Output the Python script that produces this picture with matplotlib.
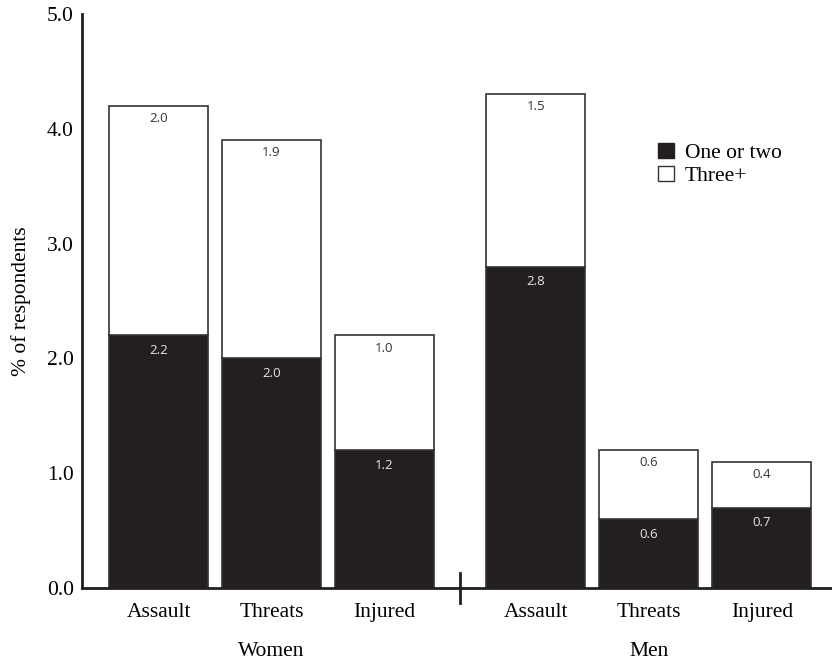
import matplotlib
matplotlib.use("Agg")
import matplotlib.pyplot as plt
from matplotlib.patches import Patch
import numpy as np

groups = ["Women", "Men"]
categories = ["Assault", "Threats", "Injured"]
one_or_two = [2.2, 2.0, 1.2, 2.8, 0.6, 0.7]
three_plus = [2.0, 1.9, 1.0, 1.5, 0.6, 0.4]

black = "#231f20"
edge = "#333333"
serif = "Liberation Serif"
fs = 15.5

gap = 1.34
x = np.array([0, 1, 2, gap + 2, gap + 3, gap + 4], dtype=float)
width = 0.876

fig = plt.figure(figsize=(8.32, 6.63), dpi=100)
ax = fig.add_axes([0.0986, 0.1131, 0.9014, 0.8658])

ax.bar(x, one_or_two, width, color=black, edgecolor=edge, linewidth=1.2)
ax.bar(x, three_plus, width, bottom=one_or_two, color="white", edgecolor=edge, linewidth=1.2)

for xi, a, b in zip(x, one_or_two, three_plus):
    ax.text(xi, a - 0.13, f"{a:.1f}", ha="center", va="center", color="#e6e6e6",
            fontsize=9.5, family="Open Sans")
    ax.text(xi, a + b - 0.11, f"{b:.1f}", ha="center", va="center", color="#333333",
            fontsize=9.5, family="Open Sans")

ax.set_xlim(-0.677, 5.96)
ax.set_ylim(0, 5.0)
ax.set_yticks(np.arange(0, 5.01, 1.0))
ax.set_yticklabels([f"{v:.1f}" for v in np.arange(0, 5.01, 1.0)], family=serif, fontsize=fs)
ax.tick_params(axis="y", length=0, pad=6)
ax.set_xticks(x)
ax.set_xticklabels(categories * 2, family=serif, fontsize=fs)
ax.tick_params(axis="x", length=0, pad=11)

for s in ["top", "right"]:
    ax.spines[s].set_visible(False)
for s in ["left", "bottom"]:
    ax.spines[s].set_linewidth(2)
    ax.spines[s].set_color(black)

# divider between the two groups
mid = (x[2] + x[3]) / 2
ax.plot([mid, mid], [-0.13, 0.13], color=black, lw=2, clip_on=False)

ax.text(x[1], -0.55, groups[0], ha="center", va="center", family=serif, fontsize=fs)
ax.text(x[4], -0.55, groups[1], ha="center", va="center", family=serif, fontsize=fs)

ax.set_ylabel("% of respondents", family=serif, fontsize=fs, labelpad=11)

handles = [Patch(facecolor=black, edgecolor=black, label="One or two"),
           Patch(facecolor="white", edgecolor=edge, label="Three+")]
ax.legend(handles=handles, loc="upper left", bbox_to_anchor=(0.768, 0.776), frameon=False,
          prop={"family": serif, "size": fs}, handlelength=0.75, handleheight=0.75,
          handletextpad=0.5, labelspacing=0.12, borderpad=0, borderaxespad=0)

fig.savefig("out.png", dpi=100)
